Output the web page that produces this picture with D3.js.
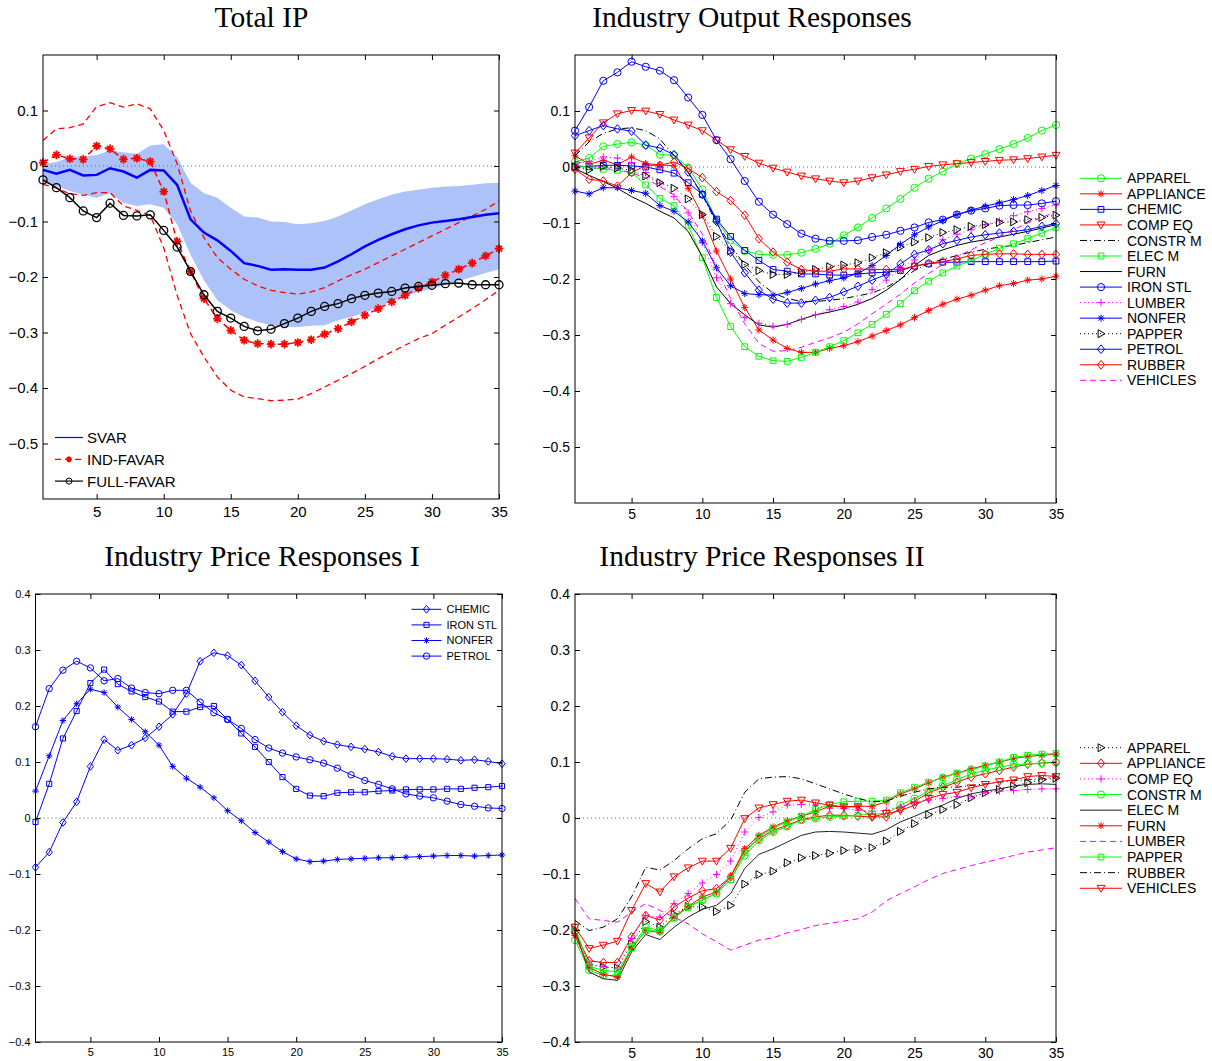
<!DOCTYPE html>
<html lang="en">
<head>
<meta charset="utf-8">
<title>Impulse responses</title>
<script src="https://d3js.org/d3.v7.min.js"></script>
<style>
  body { margin: 0; background: #fff; }
  svg text { font-family: "Liberation Sans", Arial, sans-serif; }
  .title { font-family: "Liberation Serif", "Times New Roman", serif; }
</style>
</head>
<body>
<svg id="fig" width="1212" height="1061"></svg>
<script>
// ---------- data ----------
var horizon = [1,2,3,4,5,6,7,8,9,10,11,12,13,14,15,16,17,18,19,20,21,22,23,24,25,26,27,28,29,30,31,32,33,34,35];
var xTickVals = [5,10,15,20,25,30,35];

// Total IP
var svar      = [-0.007,-0.014,-0.007,-0.017,-0.016,-0.004,-0.010,-0.021,-0.007,-0.008,-0.034,-0.096,-0.120,-0.134,-0.153,-0.175,-0.180,-0.187,-0.186,-0.187,-0.187,-0.183,-0.172,-0.159,-0.145,-0.133,-0.123,-0.114,-0.107,-0.102,-0.099,-0.096,-0.092,-0.088,-0.085];
var svarUpper = [0.004,0.007,0.016,0.017,0.020,0.028,0.025,0.022,0.037,0.039,0.016,-0.030,-0.049,-0.057,-0.075,-0.091,-0.093,-0.100,-0.101,-0.105,-0.103,-0.099,-0.091,-0.080,-0.069,-0.060,-0.052,-0.046,-0.043,-0.039,-0.037,-0.036,-0.034,-0.031,-0.030];
var svarLower = [-0.030,-0.036,-0.045,-0.052,-0.057,-0.049,-0.066,-0.072,-0.069,-0.075,-0.105,-0.160,-0.206,-0.242,-0.260,-0.272,-0.281,-0.287,-0.290,-0.290,-0.288,-0.287,-0.278,-0.272,-0.265,-0.254,-0.244,-0.235,-0.227,-0.221,-0.214,-0.207,-0.200,-0.193,-0.186];
var indFavar  = [0.006,0.020,0.013,0.012,0.036,0.031,0.012,0.014,0.008,-0.046,-0.136,-0.190,-0.239,-0.275,-0.296,-0.314,-0.320,-0.321,-0.321,-0.318,-0.313,-0.303,-0.293,-0.281,-0.269,-0.257,-0.245,-0.233,-0.220,-0.209,-0.197,-0.186,-0.175,-0.162,-0.149];
var indUpper  = [0.046,0.067,0.069,0.076,0.107,0.114,0.106,0.112,0.103,0.064,0.004,-0.081,-0.129,-0.165,-0.186,-0.204,-0.216,-0.224,-0.228,-0.231,-0.227,-0.219,-0.207,-0.196,-0.186,-0.174,-0.162,-0.150,-0.138,-0.126,-0.114,-0.102,-0.090,-0.078,-0.063];
var indLower  = [-0.033,-0.040,-0.050,-0.053,-0.048,-0.048,-0.072,-0.080,-0.089,-0.147,-0.233,-0.302,-0.344,-0.380,-0.404,-0.416,-0.419,-0.423,-0.422,-0.420,-0.410,-0.398,-0.386,-0.374,-0.361,-0.347,-0.335,-0.323,-0.311,-0.302,-0.287,-0.272,-0.257,-0.241,-0.224];
var fullFavar = [-0.025,-0.039,-0.057,-0.081,-0.093,-0.067,-0.089,-0.090,-0.088,-0.116,-0.146,-0.190,-0.232,-0.262,-0.274,-0.289,-0.297,-0.294,-0.284,-0.274,-0.262,-0.253,-0.248,-0.239,-0.233,-0.229,-0.226,-0.220,-0.217,-0.215,-0.212,-0.211,-0.214,-0.214,-0.214];

// Industry output responses
var outApparel   = [0.009,0.016,0.037,0.041,0.044,0.039,0.022,0.021,-0.001,-0.040,-0.095,-0.131,-0.150,-0.156,-0.157,-0.157,-0.153,-0.146,-0.137,-0.122,-0.108,-0.091,-0.074,-0.057,-0.037,-0.021,-0.008,0.006,0.015,0.023,0.032,0.041,0.052,0.065,0.075];
var outAppliance = [0.020,0.005,0.012,0.004,0.018,0.006,0.004,0.002,-0.038,-0.086,-0.150,-0.200,-0.251,-0.291,-0.309,-0.324,-0.331,-0.331,-0.324,-0.319,-0.312,-0.302,-0.292,-0.282,-0.269,-0.256,-0.245,-0.236,-0.229,-0.220,-0.212,-0.208,-0.202,-0.200,-0.195];
var outChemic    = [0.000,0.001,0.003,0.003,0.002,0.000,-0.005,-0.011,-0.028,-0.049,-0.093,-0.124,-0.149,-0.167,-0.183,-0.186,-0.191,-0.191,-0.193,-0.193,-0.191,-0.189,-0.188,-0.185,-0.177,-0.173,-0.170,-0.170,-0.169,-0.169,-0.169,-0.169,-0.169,-0.169,-0.168];
var outCompEq    = [0.025,0.052,0.079,0.095,0.101,0.100,0.094,0.084,0.075,0.065,0.048,0.031,0.019,0.007,-0.002,-0.009,-0.016,-0.021,-0.025,-0.028,-0.025,-0.019,-0.014,-0.008,-0.004,0.001,0.004,0.006,0.008,0.010,0.012,0.013,0.015,0.018,0.021];
var outConstrM   = [0.020,0.045,0.060,0.068,0.070,0.065,0.050,0.020,-0.010,-0.050,-0.100,-0.140,-0.175,-0.205,-0.225,-0.235,-0.240,-0.240,-0.238,-0.235,-0.230,-0.225,-0.215,-0.200,-0.185,-0.172,-0.165,-0.158,-0.152,-0.147,-0.143,-0.140,-0.135,-0.130,-0.125];
var outElecM     = [0.003,0.000,-0.004,-0.006,-0.010,-0.032,-0.056,-0.069,-0.104,-0.162,-0.233,-0.285,-0.321,-0.338,-0.346,-0.347,-0.340,-0.331,-0.321,-0.310,-0.296,-0.281,-0.263,-0.244,-0.221,-0.204,-0.189,-0.177,-0.167,-0.156,-0.145,-0.137,-0.128,-0.118,-0.108];
var outFurn      = [-0.003,-0.015,-0.026,-0.038,-0.053,-0.065,-0.079,-0.091,-0.115,-0.160,-0.214,-0.244,-0.264,-0.282,-0.286,-0.281,-0.272,-0.264,-0.259,-0.253,-0.245,-0.235,-0.220,-0.201,-0.176,-0.158,-0.148,-0.140,-0.134,-0.130,-0.125,-0.120,-0.115,-0.109,-0.103];
var outIronStl   = [0.065,0.107,0.154,0.169,0.188,0.179,0.172,0.155,0.124,0.093,0.048,0.014,-0.025,-0.062,-0.085,-0.102,-0.119,-0.128,-0.132,-0.132,-0.131,-0.125,-0.121,-0.114,-0.108,-0.099,-0.094,-0.085,-0.078,-0.074,-0.069,-0.068,-0.068,-0.065,-0.061];
var outLumber    = [0.005,0.010,0.018,0.016,0.008,-0.010,-0.029,-0.053,-0.082,-0.135,-0.198,-0.244,-0.269,-0.279,-0.284,-0.281,-0.272,-0.264,-0.255,-0.249,-0.241,-0.219,-0.202,-0.182,-0.166,-0.149,-0.130,-0.120,-0.112,-0.103,-0.096,-0.087,-0.080,-0.074,-0.068];
var outNonfer    = [-0.043,-0.048,-0.037,-0.037,-0.042,-0.047,-0.069,-0.079,-0.098,-0.132,-0.180,-0.212,-0.226,-0.228,-0.229,-0.224,-0.217,-0.209,-0.203,-0.198,-0.190,-0.176,-0.158,-0.138,-0.121,-0.107,-0.096,-0.085,-0.077,-0.070,-0.064,-0.058,-0.051,-0.042,-0.033];
var outPapper    = [0.000,-0.005,0.001,-0.002,-0.006,-0.016,-0.028,-0.038,-0.057,-0.085,-0.124,-0.150,-0.174,-0.185,-0.192,-0.192,-0.188,-0.183,-0.178,-0.175,-0.171,-0.162,-0.153,-0.143,-0.134,-0.126,-0.117,-0.112,-0.106,-0.103,-0.099,-0.098,-0.094,-0.090,-0.086];
var outPetrol    = [0.056,0.065,0.074,0.068,0.064,0.039,0.034,0.022,-0.009,-0.049,-0.097,-0.152,-0.189,-0.220,-0.236,-0.243,-0.243,-0.238,-0.233,-0.223,-0.213,-0.202,-0.192,-0.173,-0.156,-0.148,-0.137,-0.131,-0.125,-0.121,-0.118,-0.115,-0.112,-0.106,-0.101];
var outRubber    = [-0.004,-0.022,-0.025,-0.034,-0.010,0.003,0.003,0.009,-0.003,-0.019,-0.044,-0.060,-0.086,-0.128,-0.152,-0.170,-0.183,-0.186,-0.186,-0.182,-0.182,-0.183,-0.183,-0.183,-0.177,-0.172,-0.169,-0.164,-0.158,-0.156,-0.155,-0.155,-0.156,-0.156,-0.156];
var outVehicles  = [0.010,0.005,0.000,-0.005,-0.010,-0.020,-0.035,-0.050,-0.080,-0.120,-0.180,-0.235,-0.280,-0.315,-0.329,-0.328,-0.322,-0.313,-0.305,-0.295,-0.280,-0.262,-0.245,-0.227,-0.207,-0.190,-0.174,-0.160,-0.148,-0.135,-0.125,-0.112,-0.100,-0.090,-0.080];

// Industry price responses I
var p1Chemic  = [-0.088,-0.061,-0.008,0.029,0.092,0.140,0.121,0.130,0.143,0.163,0.185,0.222,0.280,0.295,0.290,0.273,0.245,0.216,0.189,0.165,0.148,0.137,0.131,0.127,0.123,0.118,0.110,0.106,0.106,0.106,0.105,0.103,0.104,0.101,0.097];
var p1IronStl = [-0.007,0.061,0.142,0.191,0.241,0.265,0.239,0.226,0.216,0.208,0.190,0.190,0.198,0.200,0.176,0.151,0.127,0.100,0.073,0.052,0.040,0.039,0.045,0.046,0.046,0.048,0.049,0.051,0.051,0.051,0.052,0.052,0.054,0.055,0.057];
var p1Nonfer  = [0.048,0.111,0.174,0.204,0.230,0.224,0.198,0.176,0.154,0.130,0.092,0.071,0.055,0.036,0.013,-0.005,-0.026,-0.043,-0.060,-0.073,-0.078,-0.077,-0.074,-0.073,-0.072,-0.071,-0.071,-0.070,-0.069,-0.068,-0.067,-0.067,-0.068,-0.067,-0.066];
var p1Petrol  = [0.163,0.231,0.264,0.280,0.268,0.245,0.249,0.232,0.224,0.222,0.228,0.228,0.207,0.188,0.176,0.160,0.140,0.125,0.116,0.109,0.104,0.098,0.089,0.077,0.067,0.060,0.052,0.043,0.039,0.036,0.030,0.024,0.021,0.018,0.017];

// Industry price responses II
var p2Apparel   = [-0.200,-0.262,-0.266,-0.268,-0.225,-0.185,-0.195,-0.172,-0.158,-0.159,-0.167,-0.156,-0.118,-0.101,-0.095,-0.080,-0.071,-0.067,-0.063,-0.058,-0.056,-0.053,-0.041,-0.024,-0.010,0.006,0.015,0.024,0.036,0.045,0.051,0.057,0.063,0.068,0.071];
var p2Appliance = [-0.205,-0.255,-0.258,-0.258,-0.212,-0.174,-0.182,-0.159,-0.143,-0.130,-0.126,-0.105,-0.058,-0.037,-0.022,-0.013,-0.003,0.002,0.005,0.005,0.003,0.002,0.002,0.017,0.030,0.045,0.055,0.064,0.073,0.079,0.085,0.091,0.096,0.098,0.100];
var p2CompEq    = [-0.200,-0.262,-0.265,-0.268,-0.215,-0.174,-0.177,-0.153,-0.135,-0.116,-0.101,-0.077,-0.025,0.001,0.011,0.023,0.024,0.023,0.018,0.017,0.014,0.012,0.014,0.020,0.029,0.032,0.035,0.038,0.039,0.045,0.048,0.049,0.051,0.052,0.052];
var p2ConstrM   = [-0.218,-0.272,-0.281,-0.281,-0.230,-0.195,-0.201,-0.177,-0.159,-0.147,-0.135,-0.110,-0.067,-0.040,-0.025,-0.015,-0.004,-0.001,0.002,0.003,0.005,0.007,0.008,0.023,0.035,0.048,0.058,0.068,0.079,0.085,0.091,0.095,0.097,0.098,0.099];
var p2ElecM     = [-0.201,-0.275,-0.287,-0.290,-0.239,-0.208,-0.217,-0.195,-0.177,-0.163,-0.156,-0.135,-0.090,-0.065,-0.055,-0.043,-0.031,-0.025,-0.024,-0.025,-0.027,-0.029,-0.021,-0.007,0.003,0.014,0.023,0.035,0.043,0.048,0.052,0.057,0.060,0.061,0.060];
var p2Furn      = [-0.210,-0.267,-0.279,-0.284,-0.233,-0.201,-0.204,-0.177,-0.158,-0.141,-0.132,-0.105,-0.055,-0.031,-0.016,-0.005,0.003,0.011,0.021,0.020,0.021,0.021,0.029,0.043,0.052,0.063,0.073,0.080,0.088,0.094,0.100,0.106,0.110,0.112,0.114];
var p2Lumber    = [-0.144,-0.180,-0.183,-0.186,-0.168,-0.153,-0.165,-0.177,-0.189,-0.207,-0.221,-0.236,-0.227,-0.218,-0.214,-0.205,-0.199,-0.192,-0.188,-0.184,-0.180,-0.168,-0.148,-0.135,-0.123,-0.110,-0.099,-0.092,-0.085,-0.079,-0.073,-0.067,-0.061,-0.057,-0.053];
var p2Papper    = [-0.195,-0.265,-0.272,-0.275,-0.232,-0.201,-0.202,-0.179,-0.159,-0.146,-0.134,-0.110,-0.062,-0.034,-0.018,-0.007,0.003,0.015,0.024,0.029,0.030,0.030,0.032,0.045,0.055,0.064,0.072,0.080,0.086,0.093,0.100,0.108,0.112,0.114,0.115];
var p2Rubber    = [-0.183,-0.201,-0.195,-0.180,-0.141,-0.088,-0.093,-0.076,-0.055,-0.037,-0.028,-0.004,0.046,0.070,0.073,0.074,0.070,0.061,0.052,0.043,0.035,0.029,0.030,0.039,0.046,0.052,0.055,0.055,0.058,0.061,0.064,0.067,0.068,0.070,0.073];
var p2Vehicles  = [-0.195,-0.233,-0.227,-0.220,-0.165,-0.117,-0.132,-0.105,-0.089,-0.077,-0.077,-0.054,-0.001,0.018,0.024,0.030,0.032,0.027,0.023,0.020,0.020,0.002,0.008,0.013,0.023,0.035,0.042,0.046,0.054,0.060,0.065,0.068,0.074,0.076,0.074];

var outNames = ["APPAREL","APPLIANCE","CHEMIC","COMP EQ","CONSTR M","ELEC M","FURN","IRON STL","LUMBER","NONFER","PAPPER","PETROL","RUBBER","VEHICLES"];
var outValues = [outApparel,outAppliance,outChemic,outCompEq,outConstrM,outElecM,outFurn,outIronStl,outLumber,outNonfer,outPapper,outPetrol,outRubber,outVehicles];
var p1Names = ["CHEMIC","IRON STL","NONFER","PETROL"];
var p1Values = [p1Chemic,p1IronStl,p1Nonfer,p1Petrol];
var p2Names = ["APPAREL","APPLIANCE","COMP EQ","CONSTR M","ELEC M","FURN","LUMBER","PAPPER","RUBBER","VEHICLES"];
var p2Values = [p2Apparel,p2Appliance,p2CompEq,p2ConstrM,p2ElecM,p2Furn,p2Lumber,p2Papper,p2Rubber,p2Vehicles];

// ---------- styles ----------
var G = "#00ff00", R = "#ff0000", B = "#0000ff", M = "#ff00ff", K = "#000000";
var dashes = { solid: null, dash: "6,4", dot: "1,3", dashdot: "7,3,1,3" };

var outStyle = {
  "APPAREL":   {c: G, d: "solid", m: "o"},
  "APPLIANCE": {c: R, d: "solid", m: "*"},
  "CHEMIC":    {c: B, d: "solid", m: "s"},
  "COMP EQ":   {c: R, d: "solid", m: "v"},
  "CONSTR M":  {c: K, d: "dashdot", m: null},
  "ELEC M":    {c: G, d: "solid", m: "s"},
  "FURN":      {c: K, d: "solid", m: null},
  "IRON STL":  {c: B, d: "solid", m: "o"},
  "LUMBER":    {c: M, d: "dot", m: "+"},
  "NONFER":    {c: B, d: "solid", m: "*"},
  "PAPPER":    {c: K, d: "dot", m: ">"},
  "PETROL":    {c: B, d: "solid", m: "d"},
  "RUBBER":    {c: R, d: "solid", m: "d"},
  "VEHICLES":  {c: M, d: "dash", m: null}
};
var p1Style = {
  "CHEMIC":   {c: B, d: "solid", m: "d"},
  "IRON STL": {c: B, d: "solid", m: "s"},
  "NONFER":   {c: B, d: "solid", m: "*"},
  "PETROL":   {c: B, d: "solid", m: "o"}
};
var p2Style = {
  "APPAREL":   {c: K, d: "dot", m: ">"},
  "APPLIANCE": {c: R, d: "solid", m: "d"},
  "COMP EQ":   {c: M, d: "dot", m: "+"},
  "CONSTR M":  {c: G, d: "solid", m: "o"},
  "ELEC M":    {c: "#222", d: "solid", m: null},
  "FURN":      {c: R, d: "solid", m: "*"},
  "LUMBER":    {c: M, d: "dash", m: null},
  "PAPPER":    {c: G, d: "solid", m: "s"},
  "RUBBER":    {c: K, d: "dashdot", m: null},
  "VEHICLES":  {c: R, d: "solid", m: "v"}
};

// ---------- helpers ----------
var svg = d3.select("#fig");
var fmt = function(d) { return d === 0 ? "0" : d3.format(".1f")(d); };

function markerPath(type, s) {
  switch (type) {
    case "o": return "M" + s + ",0A" + s + "," + s + " 0 1,1 " + (-s) + ",0A" + s + "," + s + " 0 1,1 " + s + ",0Z";
    case "s": var h = s * 0.8; return "M" + (-h) + "," + (-h) + "H" + h + "V" + h + "H" + (-h) + "Z";
    case "d": return "M0," + (-s * 1.2) + "L" + s + ",0L0," + (s * 1.2) + "L" + (-s) + ",0Z";
    case "v": return "M" + (-s * 1.1) + "," + (-s * 0.8) + "H" + (s * 1.1) + "L0," + (s * 1.1) + "Z";
    case ">": return "M" + (-s * 0.8) + "," + (-s * 1.1) + "L" + (s * 1.1) + ",0L" + (-s * 0.8) + "," + (s * 1.1) + "Z";
    case "+": return "M" + (-s) + ",0H" + s + "M0," + (-s) + "V" + s;
    case "*": var a = s * 0.7;
      return "M" + (-s) + ",0H" + s + "M0," + (-s) + "V" + s +
             "M" + (-a) + "," + (-a) + "L" + a + "," + a + "M" + (-a) + "," + a + "L" + a + "," + (-a);
  }
  return "";
}

function panel(o) {
  var x = d3.scaleLinear().domain([1, 35]).range([o.l, o.r]);
  var y = d3.scaleLinear().domain(o.yDom).range([o.b, o.t]);
  var g = svg.append("g");
  var axes = svg.append("g");
  return {x: x, y: y, g: g, axes: axes, o: o};
}

function finishPanel(p) {
  var o = p.o;
  var a = p.axes.raise();
  a.append("g").attr("transform", "translate(0," + o.b + ")")
    .call(d3.axisBottom(p.x).tickValues(xTickVals).tickSize(-5).tickPadding(o.xPad).tickFormat(d3.format("d")))
    .attr("font-size", o.fx).attr("font-family", "Liberation Sans, Arial, sans-serif")
    .call(function(s) { s.select(".domain").remove(); });
  a.append("g").attr("transform", "translate(0," + o.t + ")")
    .call(d3.axisTop(p.x).tickValues(xTickVals).tickSize(-5).tickFormat(""))
    .call(function(s) { s.select(".domain").remove(); });
  a.append("g").attr("transform", "translate(" + o.l + ",0)")
    .call(d3.axisLeft(p.y).tickValues(o.yTicks).tickSize(-5).tickPadding(o.yPad).tickFormat(fmt))
    .attr("font-size", o.fy).attr("font-family", "Liberation Sans, Arial, sans-serif")
    .call(function(s) { s.select(".domain").remove(); });
  a.append("g").attr("transform", "translate(" + o.r + ",0)")
    .call(d3.axisRight(p.y).tickValues(o.yTicks).tickSize(-5).tickFormat(""))
    .call(function(s) { s.select(".domain").remove(); });
  a.append("rect").attr("x", o.l).attr("y", o.t).attr("width", o.r - o.l).attr("height", o.b - o.t)
    .attr("fill", "none").attr("stroke", "#000").attr("stroke-width", 1);
}

function zeroLine(p) {
  p.g.append("line").attr("x1", p.o.l).attr("x2", p.o.r).attr("y1", p.y(0)).attr("y2", p.y(0))
    .attr("stroke", "#666").attr("stroke-width", 1).attr("stroke-dasharray", "1,3");
}

function drawSeries(p, vals, st, ms, lw, mw) {
  var line = d3.line().x(function(d, i) { return p.x(horizon[i]); }).y(function(d) { return p.y(d); });
  p.g.append("path").datum(vals).attr("d", line)
    .attr("fill", "none").attr("stroke", st.c).attr("stroke-width", lw || 1)
    .attr("stroke-dasharray", dashes[st.d]);
  if (st.m) {
    p.g.append("g").selectAll("path").data(vals).join("path")
      .attr("transform", function(d, i) { return "translate(" + p.x(horizon[i]) + "," + p.y(d) + ")"; })
      .attr("d", markerPath(st.m, ms))
      .attr("fill", "none").attr("stroke", st.c).attr("stroke-width", mw || 1);
  }
}

function legend(x0, y0, dy, len, gap, names, styles, ms, fs, lw, mw) {
  var lg = svg.append("g");
  names.forEach(function(n, i) {
    var st = styles[n], yy = y0 + i * dy;
    lg.append("line").attr("x1", x0).attr("x2", x0 + len).attr("y1", yy).attr("y2", yy)
      .attr("stroke", st.c).attr("stroke-width", (lw && lw[i]) || 1).attr("stroke-dasharray", dashes[st.d]);
    if (st.m) lg.append("path").attr("transform", "translate(" + (x0 + len / 2) + "," + yy + ")")
      .attr("d", markerPath(st.m, ms)).attr("fill", "none").attr("stroke", st.c).attr("stroke-width", (mw && mw[i]) || 1);
    lg.append("text").attr("x", x0 + len + gap).attr("y", yy).attr("dy", "0.36em")
      .attr("font-size", fs).text(n);
  });
}

function title(x, y, txt) {
  svg.append("text").attr("class", "title").attr("x", x).attr("y", y)
    .attr("text-anchor", "middle").attr("font-size", 29.5).text(txt);
}

// ---------- panel 1: Total IP ----------
var pA = panel({l: 43, r: 499, t: 55, b: 499, yDom: [-0.6, 0.2],
  yTicks: [-0.5, -0.4, -0.3, -0.2, -0.1, 0, 0.1], fx: 15, fy: 15, xPad: 7, yPad: 5});
var band = d3.area().x(function(d, i) { return pA.x(horizon[i]); })
  .y0(function(d, i) { return pA.y(svarLower[i]); }).y1(function(d, i) { return pA.y(svarUpper[i]); });
pA.g.append("path").datum(svar).attr("d", band).attr("fill", "#adc2f8");
zeroLine(pA);
var redDash = {c: R, d: "dash", m: null};
drawSeries(pA, indUpper, redDash, 0, 1.3);
drawSeries(pA, indLower, redDash, 0, 1.3);
drawSeries(pA, svar, {c: B, d: "solid", m: null}, 0, 2.5);
drawSeries(pA, indFavar, {c: R, d: "dash", m: "*"}, 4.3, 1.5, 1.8);
drawSeries(pA, fullFavar, {c: K, d: "solid", m: "o"}, 4, 1.5, 1.3);
finishPanel(pA);
legend(55, 437.5, 21.8, 28, 4, ["SVAR", "IND-FAVAR", "FULL-FAVAR"],
  {"SVAR": {c: B, d: "solid", m: null}, "IND-FAVAR": {c: R, d: "dash", m: "*"}, "FULL-FAVAR": {c: K, d: "solid", m: "o"}},
  3, 15, [1.2, 1.2, 1.2], [1, 1.6, 1]);
title(261.5, 27, "Total IP");

// ---------- panel 2: Industry Output Responses ----------
var pB = panel({l: 575, r: 1056, t: 55, b: 503, yDom: [-0.6, 0.2],
  yTicks: [-0.5, -0.4, -0.3, -0.2, -0.1, 0, 0.1], fx: 14, fy: 14, xPad: 6, yPad: 5});
zeroLine(pB);
outNames.forEach(function(n, i) { drawSeries(pB, outValues[i], outStyle[n], 3.6, 1); });
finishPanel(pB);
legend(1080, 178.3, 15.54, 42, 5, outNames, outStyle, 3.6, 14);
title(752, 27, "Industry Output Responses");

// ---------- panel 3: Industry Price Responses I ----------
var pC = panel({l: 35.5, r: 502, t: 594, b: 1042, yDom: [-0.4, 0.4],
  yTicks: [-0.4, -0.3, -0.2, -0.1, 0, 0.1, 0.2, 0.3, 0.4], fx: 11, fy: 11, xPad: 6, yPad: 5});
zeroLine(pC);
p1Names.forEach(function(n, i) { drawSeries(pC, p1Values[i], p1Style[n], 3.2, 1); });
finishPanel(pC);
legend(411.5, 609.3, 15.6, 30, 5, p1Names, p1Style, 3.2, 11);
title(262, 566, "Industry Price Responses I");

// ---------- panel 4: Industry Price Responses II ----------
var pD = panel({l: 575, r: 1056, t: 594, b: 1042, yDom: [-0.4, 0.4],
  yTicks: [-0.4, -0.3, -0.2, -0.1, 0, 0.1, 0.2, 0.3, 0.4], fx: 14, fy: 14, xPad: 6, yPad: 5});
zeroLine(pD);
p2Names.forEach(function(n, i) { drawSeries(pD, p2Values[i], p2Style[n], 3.6, 1); });
finishPanel(pD);
legend(1080, 747.7, 15.62, 42, 5, p2Names, p2Style, 3.6, 14);
title(762, 566, "Industry Price Responses II");
</script>
</body>
</html>
